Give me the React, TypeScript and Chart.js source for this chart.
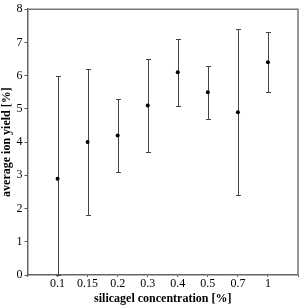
import React, { useEffect, useRef } from "react";
import { Chart, registerables } from "chart.js";

Chart.register(...registerables);

const categories = ["", "0.1", "0.15", "0.2", "0.3", "0.4", "0.5", "0.7", "1", ""];
const means = [null, 2.9, 4.0, 4.2, 5.1, 6.1, 5.5, 4.9, 6.4, null];
const upper = [null, 6.0, 6.2, 5.3, 6.5, 7.1, 6.3, 7.4, 7.3, null];
const lower = [null, 0.0, 1.8, 3.1, 3.7, 5.1, 4.7, 2.4, 5.5, null];
const yTicks = [0, 1, 2, 3, 4, 5, 6, 7, 8];

const FONT = "'Liberation Serif', 'Times New Roman', serif";

const errorBarPlugin = {
  id: "errorBars",
  beforeDatasetsDraw(chart: any) {
    const ctx = chart.ctx;
    const xs = chart.scales.x;
    const ys = chart.scales.y;
    ctx.save();
    ctx.strokeStyle = "#444";
    ctx.lineWidth = 1;
    for (let i = 0; i < categories.length; i++) {
      const hi = upper[i];
      const lo = lower[i];
      if (hi == null || lo == null) continue;
      const x = Math.round(xs.getPixelForValue(i)) + 0.5;
      const yh = Math.round(ys.getPixelForValue(hi)) + 0.5;
      const yl = Math.round(ys.getPixelForValue(lo)) + 0.5;
      ctx.beginPath();
      ctx.moveTo(x, yh);
      ctx.lineTo(x, yl);
      ctx.moveTo(x - 2.5, yh);
      ctx.lineTo(x + 2.5, yh);
      ctx.moveTo(x - 2.5, yl);
      ctx.lineTo(x + 2.5, yl);
      ctx.stroke();
    }
    ctx.restore();
  },
  afterDraw(chart: any) {
    const { ctx, chartArea } = chart;
    ctx.save();
    ctx.strokeStyle = "#777";
    ctx.lineWidth = 1.5;
    ctx.beginPath();
    ctx.moveTo(chartArea.left, chartArea.top);
    ctx.lineTo(chartArea.right, chartArea.top);
    ctx.lineTo(chartArea.right, chartArea.bottom);
    ctx.stroke();
    ctx.restore();
  },
};

export default function App() {
  const ref = useRef<HTMLCanvasElement | null>(null);
  useEffect(() => {
    document.body.style.margin = "0";
    const chart = new Chart(ref.current as HTMLCanvasElement, {
      type: "line",
      data: {
        labels: categories,
        datasets: [
          {
            data: means as any,
            showLine: false,
            pointRadius: 2,
            pointBackgroundColor: "#000",
            pointBorderColor: "#000",
            pointBorderWidth: 0,
          },
        ],
      },
      options: {
        animation: false,
        responsive: false,
        layout: { padding: { top: 7, right: 2, left: 0, bottom: 0 } },
        plugins: { legend: { display: false }, tooltip: { enabled: false } },
        scales: {
          x: {
            type: "category",
            offset: false,
            grid: { display: true, drawOnChartArea: false, drawTicks: true, tickLength: 2, color: "#555" },
            border: { display: true, color: "#666", width: 1.5 },
            ticks: {
              color: "#000",
              font: { family: FONT, size: 12 },
              padding: 0,
              autoSkip: false,
              maxRotation: 0,
            },
            title: {
              display: true,
              text: "silicagel concentration [%]",
              color: "#000",
              font: { family: FONT, size: 12, weight: "bold" },
              padding: { top: 0, bottom: 0 },
            },
            afterFit(scale: any) {
              scale.height = 31;
            },
          },
          y: {
            min: 0,
            max: 8,
            afterBuildTicks(scale: any) {
              scale.ticks = yTicks.map((v) => ({ value: v }));
            },
            grid: { display: true, drawOnChartArea: false, drawTicks: true, tickLength: 3, color: "#555" },
            border: { display: true, color: "#666", width: 1.5 },
            ticks: {
              color: "#000",
              font: { family: FONT, size: 12 },
              padding: 2,
            },
            title: {
              display: true,
              text: "average ion yield [%]",
              color: "#000",
              font: { family: FONT, size: 12, weight: "bold" },
              padding: { top: 0, bottom: 0 },
            },
            afterFit(scale: any) {
              scale.width = 27.5;
            },
          },
        },
      },
      plugins: [errorBarPlugin],
    });
    return () => chart.destroy();
  }, []);
  return (
    <div style={{ width: 302, height: 306 }}>
      <canvas ref={ref} width={302} height={306} style={{ display: "block" }} />
    </div>
  );
}
